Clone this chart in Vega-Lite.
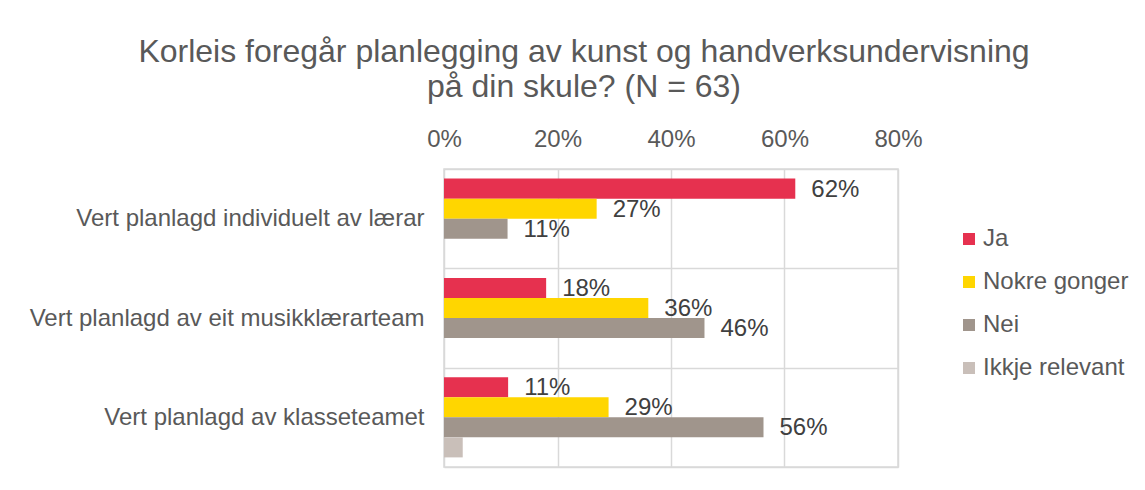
{
  "$schema": "https://vega.github.io/schema/vega-lite/v6.json",
  "width": 454,
  "height": 298,
  "autosize": {"type": "none"},
  "padding": {"left": 444, "top": 169, "right": 247, "bottom": 23},
  "background": "white",
  "config": {
    "font": "Liberation Sans",
    "view": {"stroke": "#d9d9d9", "strokeWidth": 1.5}
  },
  "title": {
    "text": ["Korleis foregår planlegging av kunst og handverksundervisning", "på din skule? (N = 63)"],
    "fontSize": 32,
    "font": "Liberation Sans",
    "fontWeight": "normal",
    "color": "#595959",
    "anchor": "middle",
    "dx": -87,
    "offset": 23,
    "lineHeight": 35
  },
  "data": {
    "values": [
      {"kategori": "Vert planlagd individuelt av lærar", "serie": "Ja", "verdi": 0.619},
      {"kategori": "Vert planlagd individuelt av lærar", "serie": "Nokre gonger", "verdi": 0.269},
      {"kategori": "Vert planlagd individuelt av lærar", "serie": "Nei", "verdi": 0.112},
      {"kategori": "Vert planlagd av eit musikklærarteam", "serie": "Ja", "verdi": 0.18},
      {"kategori": "Vert planlagd av eit musikklærarteam", "serie": "Nokre gonger", "verdi": 0.36},
      {"kategori": "Vert planlagd av eit musikklærarteam", "serie": "Nei", "verdi": 0.459},
      {"kategori": "Vert planlagd av klasseteamet", "serie": "Ja", "verdi": 0.113},
      {"kategori": "Vert planlagd av klasseteamet", "serie": "Nokre gonger", "verdi": 0.29},
      {"kategori": "Vert planlagd av klasseteamet", "serie": "Nei", "verdi": 0.563},
      {"kategori": "Vert planlagd av klasseteamet", "serie": "Ikkje relevant", "verdi": 0.033}
    ]
  },
  "encoding": {
    "y": {
      "field": "kategori",
      "type": "nominal",
      "sort": null,
      "scale": {"paddingInner": 0, "paddingOuter": 0},
      "axis": {
        "title": null,
        "ticks": false,
        "domain": false,
        "grid": true,
        "tickBand": "extent",
        "gridColor": "#d9d9d9",
        "gridWidth": 1.5,
        "labelPadding": 20,
        "labelFontSize": 24,
        "labelColor": "#595959",
        "labelFont": "Liberation Sans",
        "labelLimit": 500
      }
    },
    "yOffset": {
      "field": "serie",
      "type": "nominal",
      "sort": ["Ja", "Nokre gonger", "Nei", "Ikkje relevant"],
      "scale": {"paddingInner": 0, "paddingOuter": 0.48}
    },
    "x": {
      "field": "verdi",
      "type": "quantitative",
      "scale": {"domain": [0, 0.8], "nice": false},
      "axis": {
        "orient": "top",
        "title": null,
        "format": ".0%",
        "values": [0, 0.2, 0.4, 0.6, 0.8],
        "ticks": false,
        "domain": false,
        "grid": true,
        "gridColor": "#d9d9d9",
        "gridWidth": 1.5,
        "labelFlush": false,
        "labelOverlap": false,
        "labelPadding": 18,
        "labelFontSize": 24,
        "labelColor": "#595959",
        "labelFont": "Liberation Sans"
      }
    }
  },
  "layer": [
    {
      "mark": {"type": "bar"},
      "encoding": {
        "color": {
          "field": "serie",
          "type": "nominal",
          "scale": {
            "domain": ["Ja", "Nokre gonger", "Nei", "Ikkje relevant"],
            "range": ["#E6314F", "#FFD600", "#A0958C", "#C9BFB9"]
          },
          "legend": {
            "orient": "none",
            "legendX": 513,
            "legendY": 58,
            "padding": 0,
            "title": null,
            "symbolType": "square",
            "symbolSize": 144,
            "symbolStrokeWidth": 0,
            "symbolOpacity": 1,
            "labelFontSize": 24,
            "labelColor": "#595959",
            "labelFont": "Liberation Sans",
            "labelOffset": 2,
            "rowPadding": 19
          }
        }
      }
    },
    {
      "transform": [{"filter": "datum.serie != 'Ikkje relevant'"}],
      "mark": {"type": "text", "align": "left", "baseline": "middle", "dx": 16, "dy": 1, "fontSize": 24, "color": "#404040", "font": "Liberation Sans"},
      "encoding": {
        "text": {"field": "verdi", "type": "quantitative", "format": ".0%"}
      }
    }
  ]
}
